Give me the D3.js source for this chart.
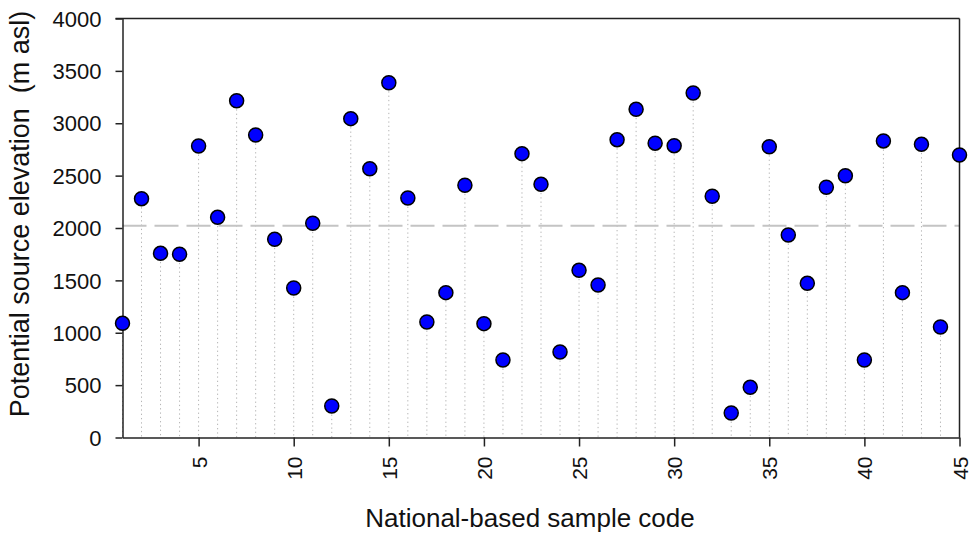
<!DOCTYPE html>
<html>
<head>
<meta charset="utf-8">
<script src="https://cdn.jsdelivr.net/npm/d3@7"></script>
<style>
  body { margin: 0; background: #fff; }
  svg { display: block; font-family: Arial, "Liberation Sans", sans-serif; }
</style>
</head>
<body>
<div class="chart"></div>
<script>
const width = 978;
const height = 538;
const margin = { top: 18.5, right: 18.5, bottom: 100.5, left: 122.5 };

// Sample codes 1..45
const sampleCodes = [
    1, 2, 3, 4, 5, 6, 7, 8, 9, 10,
    11, 12, 13, 14, 15, 16, 17, 18, 19, 20,
    21, 22, 23, 24, 25, 26, 27, 28, 29, 30,
    31, 32, 33, 34, 35, 36, 37, 38, 39, 40,
    41, 42, 43, 44, 45
];

// Potential source elevation (m asl)
const elevations = [
    1090, 2280, 1758, 1749, 2783, 2102, 3215, 2888, 1892, 1427,
    2045, 301, 3044, 2566, 3387, 2286, 1103, 1383, 2408, 1087,
    740, 2710, 2417, 816, 1596, 1456, 2843, 3133, 2810, 2786,
    3289, 2303, 234, 479, 2776, 1933, 1472, 2389, 2499, 740,
    2831, 1383, 2799, 1055, 2697
];

const xTicks = [5, 10, 15, 20, 25, 30, 35, 40, 45];
const yTicks = [0, 500, 1000, 1500, 2000, 2500, 3000, 3500, 4000];

const dataset = sampleCodes.map((c, i) => ({ code: c, value: elevations[i] }));
const meanValue = d3.mean(elevations);

const svg = d3.select(".chart").append("svg")
    .attr("width", width)
    .attr("height", height);

const xScale = d3.scaleLinear()
    .domain([1, 45])
    .range([margin.left, width - margin.right]);

const yScale = d3.scaleLinear()
    .domain([0, 4000])
    .range([height - margin.bottom, margin.top]);

// Drop lines from each point to the x axis
svg.selectAll("line.drop")
    .data(dataset)
    .enter()
    .append("line")
    .attr("class", "drop")
    .attr("x1", d => xScale(d.code))
    .attr("x2", d => xScale(d.code))
    .attr("y1", d => yScale(d.value))
    .attr("y2", yScale(0))
    .attr("stroke", "#b4b4b4")
    .attr("stroke-width", 1)
    .attr("stroke-dasharray", "1.3,3");

// Mean reference line
svg.append("line")
    .attr("x1", xScale(1))
    .attr("x2", xScale(45))
    .attr("y1", yScale(meanValue))
    .attr("y2", yScale(meanValue))
    .attr("stroke", "#c4c4c4")
    .attr("stroke-width", 2)
    .attr("stroke-dasharray", "24,8");

// Frame (top and right)
svg.append("line")
    .attr("x1", xScale(1) - 7).attr("x2", xScale(45))
    .attr("y1", yScale(4000)).attr("y2", yScale(4000))
    .attr("stroke", "#222").attr("stroke-width", 1.5);
svg.append("line")
    .attr("x1", xScale(45)).attr("x2", xScale(45))
    .attr("y1", yScale(4000)).attr("y2", yScale(0))
    .attr("stroke", "#222").attr("stroke-width", 1.5);

// Axes
const xAxis = d3.axisBottom(xScale).tickValues(xTicks).tickSize(9).tickSizeOuter(0).tickFormat(d3.format("d"));
const yAxis = d3.axisLeft(yScale).tickValues(yTicks).tickSize(7).tickSizeOuter(0).tickFormat(d3.format("d"));

const gx = svg.append("g")
    .attr("transform", `translate(0, ${yScale(0)})`)
    .call(xAxis)
    .attr("font-family", "Arial, 'Liberation Sans', sans-serif");

gx.select(".domain").attr("stroke", "#222").attr("stroke-width", 1.5);
gx.selectAll(".tick line").attr("stroke", "#222").attr("stroke-width", 1.5);
gx.selectAll(".tick text")
    .attr("font-size", 21)
    .attr("fill", "#111")
    .attr("text-anchor", "end")
    .attr("dominant-baseline", "central")
    .attr("transform", "rotate(-90)")
    .attr("x", -19)
    .attr("y", 0)
    .attr("dy", null);

const gy = svg.append("g")
    .attr("transform", `translate(${xScale(1)}, 0)`)
    .call(yAxis)
    .attr("font-family", "Arial, 'Liberation Sans', sans-serif");

gy.select(".domain").attr("stroke", "#222").attr("stroke-width", 1.5);
gy.selectAll(".tick line").attr("stroke", "#222").attr("stroke-width", 1.5);
gy.selectAll(".tick text")
    .attr("font-size", 22)
    .attr("fill", "#111")
    .attr("x", -21)
    .attr("dy", "0.35em");

// Points
svg.selectAll("circle.data-point")
    .data(dataset)
    .enter()
    .append("circle")
    .attr("class", "data-point")
    .attr("cx", d => xScale(d.code))
    .attr("cy", d => yScale(d.value))
    .attr("r", 7)
    .attr("fill", "#0000ff")
    .attr("stroke", "#000")
    .attr("stroke-width", 1.5);

// Axis titles
svg.append("text")
    .attr("x", 530)
    .attr("y", 527)
    .attr("text-anchor", "middle")
    .attr("font-size", 26)
    .attr("fill", "#111")
    .text("National-based sample code");

svg.append("text")
    .attr("transform", "translate(29, 214) rotate(-90)")
    .attr("text-anchor", "middle")
    .attr("font-size", 27)
    .attr("fill", "#111")
    .style("white-space", "pre")
    .text("Potential source elevation  (m asl)");
</script>
</body>
</html>
